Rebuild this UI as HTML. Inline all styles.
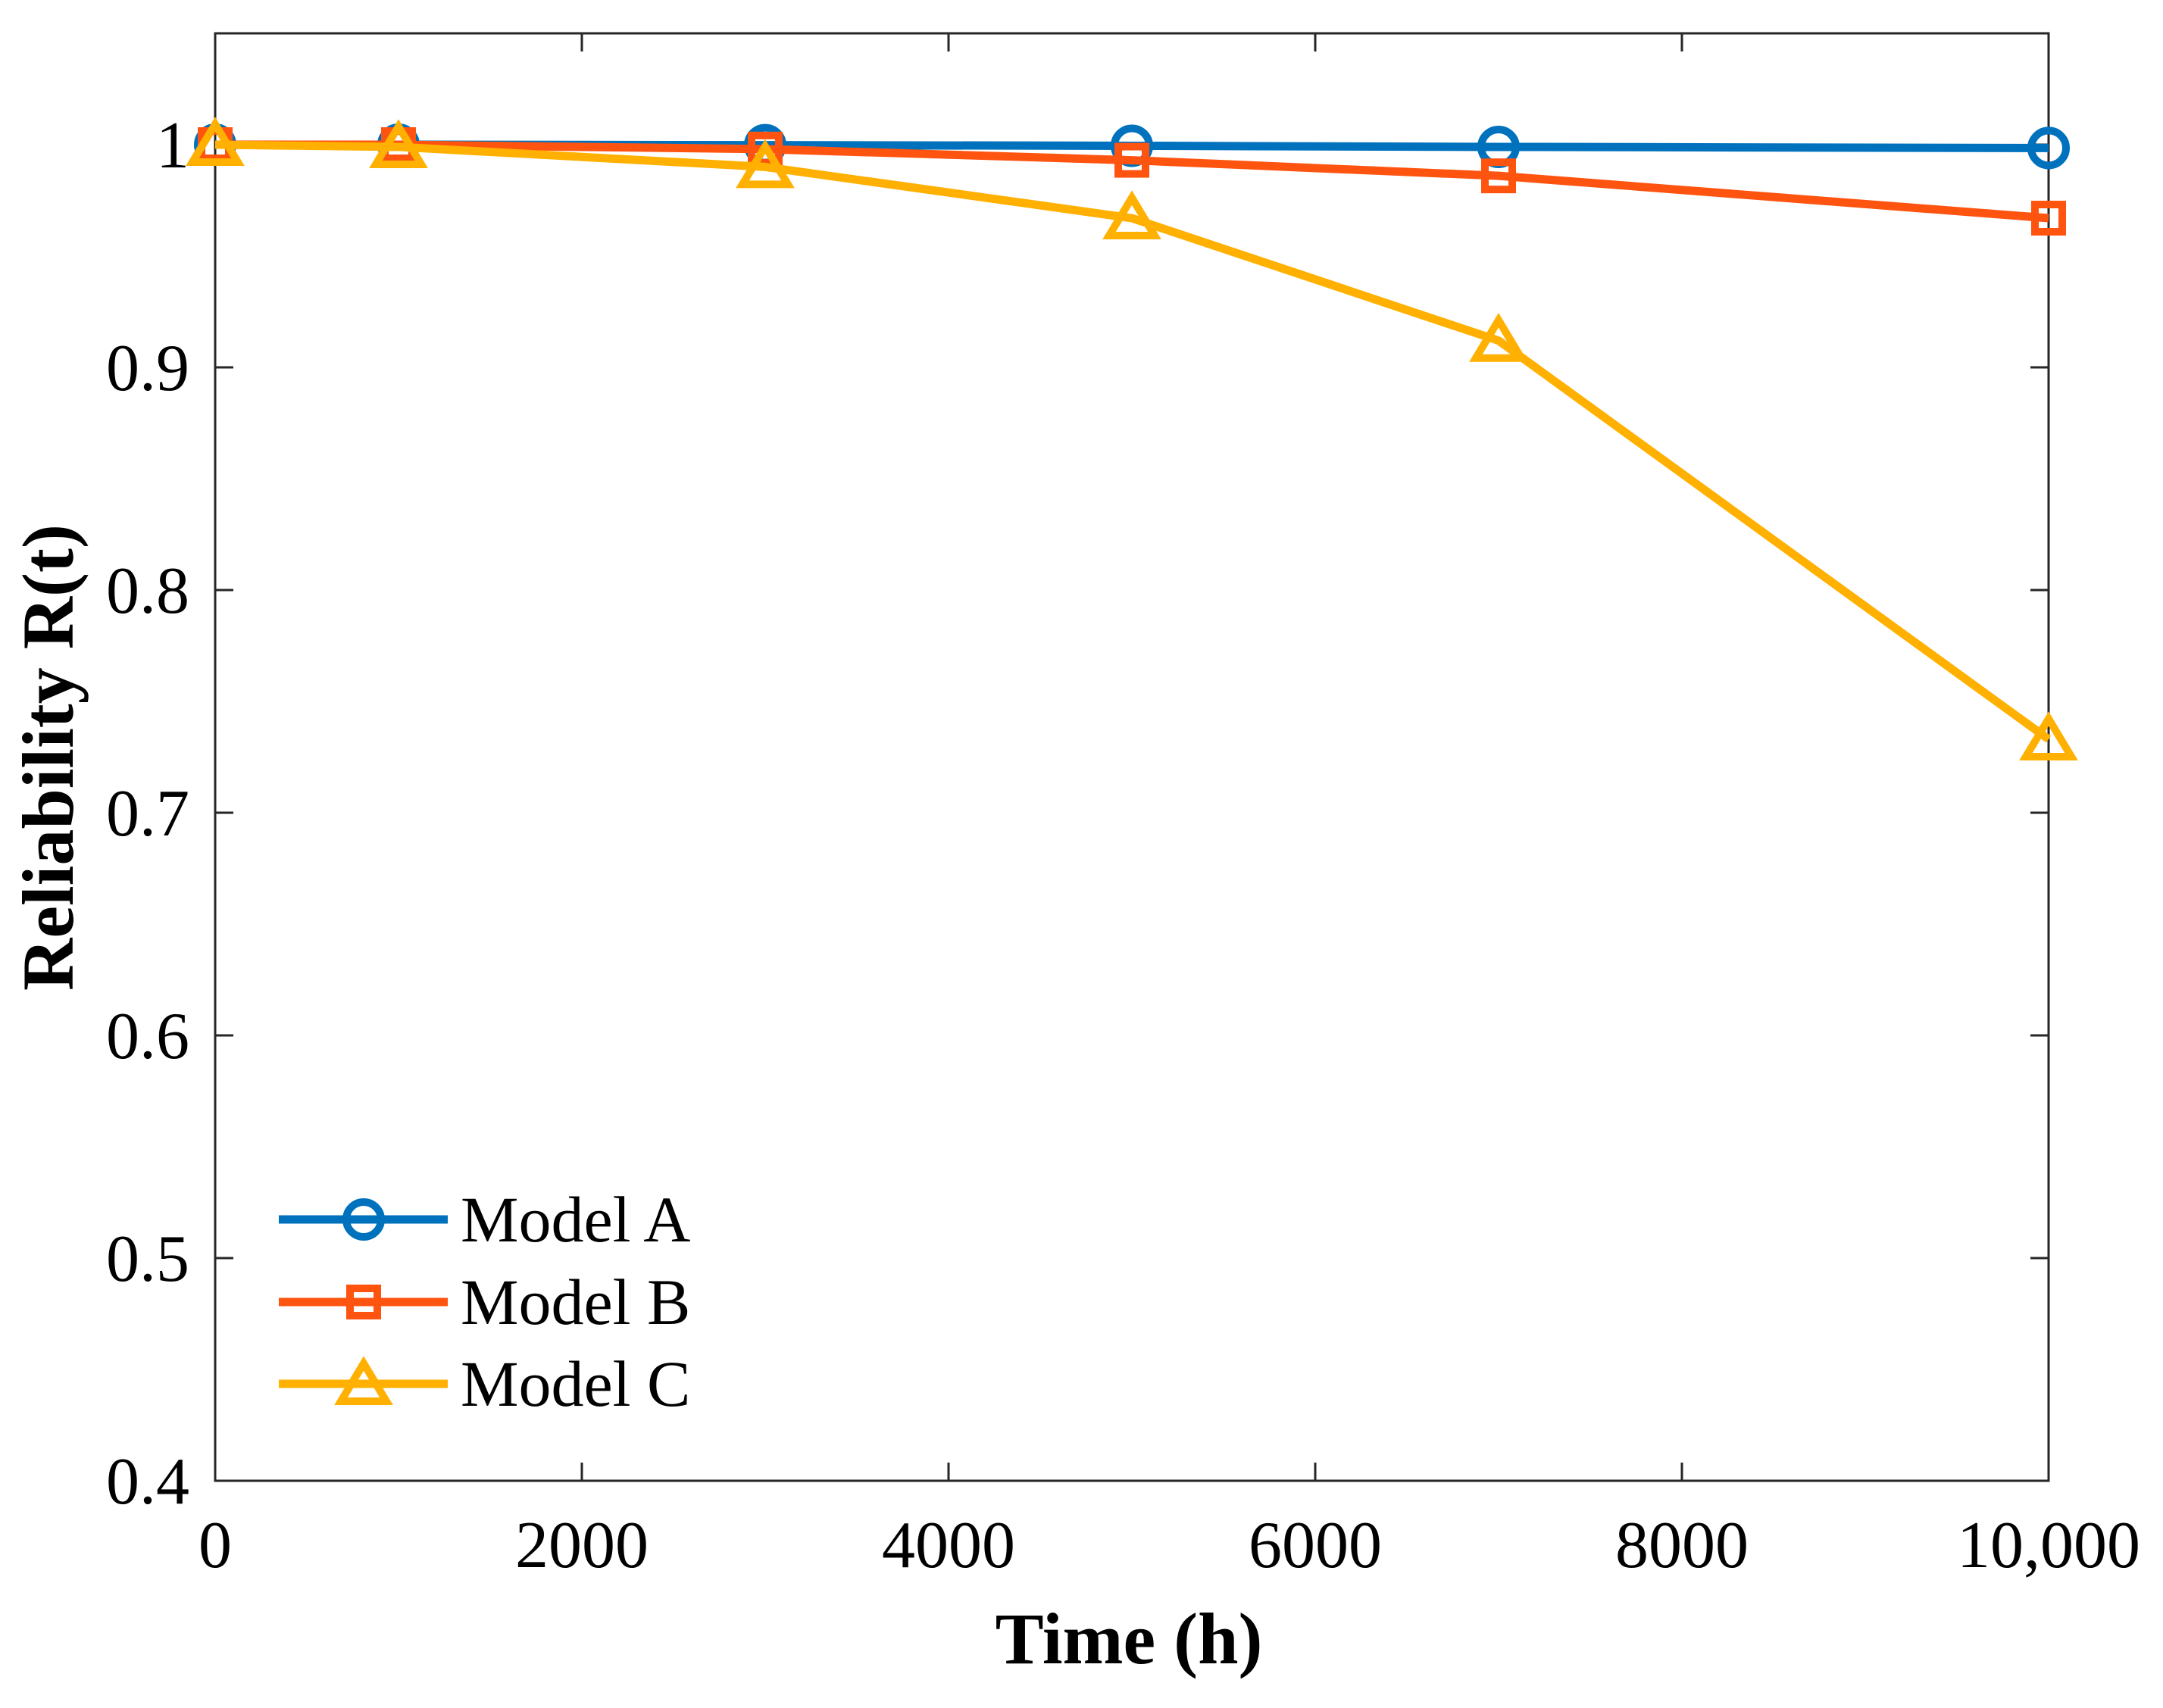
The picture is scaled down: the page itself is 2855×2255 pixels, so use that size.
<!DOCTYPE html>
<html><head><meta charset="utf-8"><style>
html,body{margin:0;padding:0;background:#fff}
svg{display:block}
text{font-family:"Liberation Serif",serif;fill:#000}
</style></head><body>
<svg id="chart" width="2855" height="2255" viewBox="0 0 2855 2255" xmlns="http://www.w3.org/2000/svg">
<g id="grid"></g>
<g id="series"></g>
<g id="legend"></g>
<text x="1490" y="2196" font-size="96" font-weight="bold" text-anchor="middle">Time (h)</text>
<text transform="translate(96,1000) rotate(-90)" font-size="96" font-weight="bold" text-anchor="middle">Reliability R(t)</text>
</svg>
<script>
const times = [0, 1000, 3000, 5000, 7000, 10000];
const modelA = [1.0, 1.0, 0.9998, 0.9995, 0.999, 0.9985];
const modelB = [1.0, 1.0, 0.998, 0.993, 0.986, 0.967];
const modelC = [1.0, 0.999, 0.990, 0.967, 0.912, 0.733];
const xTicks = [0, 2000, 4000, 6000, 8000, 10000];
const xTickLabels = ["0", "2000", "4000", "6000", "8000", "10,000"];
const yTicks = [0.4, 0.5, 0.6, 0.7, 0.8, 0.9, 1.0];
const yTickLabels = ["0.4", "0.5", "0.6", "0.7", "0.8", "0.9", "1"];
const seriesNames = ["Model A", "Model B", "Model C"];

const NS = "http://www.w3.org/2000/svg";
const L = 284, R = 2704, T = 44, B = 1955;
const xMin = 0, xMax = 10000, yMin = 0.4, yMax = 1.05;
function xs(v){ return L + (v - xMin) / (xMax - xMin) * (R - L); }
function ys(v){ return B - (v - yMin) / (yMax - yMin) * (B - T); }
function mk(tag, attrs, parent){ const e = document.createElementNS(NS, tag); for (const k in attrs) e.setAttribute(k, attrs[k]); parent.appendChild(e); return e; }

const grid = document.getElementById('grid');
const axisColor = "#262626";
const box = mk('rect', {x:L, y:T, width:R-L, height:B-T, fill:'none', stroke:axisColor, 'stroke-width':3}, grid);



xTicks.forEach((v, i) => {
  const x = xs(v);
  mk('line', {x1:x, y1:B, x2:x, y2:B-24, stroke:axisColor, 'stroke-width':3}, grid);
  mk('line', {x1:x, y1:T, x2:x, y2:T+24, stroke:axisColor, 'stroke-width':3}, grid);
  const t = mk('text', {x:x, y:2069, 'font-size':88, 'text-anchor':'middle'}, grid);
  t.textContent = xTickLabels[i];
  
  
});
yTicks.forEach((v, i) => {
  const y = ys(v);
  mk('line', {x1:L, y1:y, x2:L+24, y2:y, stroke:axisColor, 'stroke-width':3}, grid);
  mk('line', {x1:R, y1:y, x2:R-24, y2:y, stroke:axisColor, 'stroke-width':3}, grid);
  const t = mk('text', {x:250, y:y+30, 'font-size':88, 'text-anchor':'end'}, grid);
  t.textContent = yTickLabels[i];
  
  
});

const colors = ["#0072BD", "#FF5310", "#FFB000"];
const markers = ["circle", "square", "triangle"];
function drawMarker(type, cx, cy, color, parent){
  let m;
  if (type === 'circle') m = mk('ellipse', {cx:cx, cy:cy, rx:23, ry:23, fill:'none', stroke:color, 'stroke-width':10}, parent);
  else if (type === 'square') m = mk('rect', {x:cx-18, y:cy-18, width:36, height:36, fill:'none', stroke:color, 'stroke-width':10}, parent);
  else m = mk('polygon', {points:`${cx},${cy-27} ${cx+30},${cy+23} ${cx-30},${cy+23}`, fill:'none', stroke:color, 'stroke-width':10}, parent);
  return m;
}
const seriesG = document.getElementById('series');
[modelA, modelB, modelC].forEach((vals, s) => {
  const g = mk('g', {}, seriesG);
  
  
  const pts = vals.map((v, i) => xs(times[i]) + ',' + ys(v)).join(' ');
  const line = mk('polyline', {points:pts, fill:'none', stroke:colors[s], 'stroke-width':11, 'stroke-linejoin':'round'}, g);
  
  
  vals.forEach((v, i) => {
    const m = drawMarker(markers[s], xs(times[i]), ys(v), colors[s], g);
    
    
  });
});

const legend = document.getElementById('legend');
const rowY = [1610, 1719, 1827];
seriesNames.forEach((name, s) => {
  const g = mk('g', {}, legend);
  
  
  mk('line', {x1:368, y1:rowY[s], x2:591, y2:rowY[s], stroke:colors[s], 'stroke-width':11}, g);
  drawMarker(markers[s], 480, rowY[s], colors[s], g);
  const t = mk('text', {x:608, y:rowY[s]+29, 'font-size':86}, g);
  t.textContent = name;
});
</script>
</body></html>
